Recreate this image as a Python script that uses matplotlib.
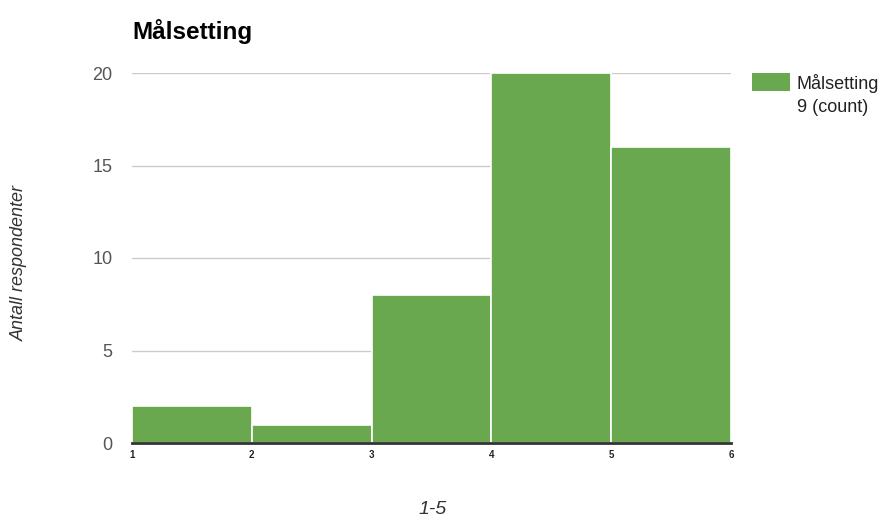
import matplotlib
matplotlib.use("Agg")
import matplotlib.pyplot as plt
from matplotlib.patches import Rectangle

plt.rcParams["font.family"] = ["Liberation Sans", "DejaVu Sans"]

bin_edges = [1, 2, 3, 4, 5, 6]
counts = [2, 1, 8, 20, 16]
y_ticks = [0, 5, 10, 15, 20]
title = "Målsetting"
legend_label = "Målsetting\n9 (count)"
ylabel = "Antall respondenter"
xlabel = "1-5"
green = "#6aa84f"

fig = plt.figure(figsize=(8.91, 5.18), dpi=100)
ax = fig.add_axes([132/891, 1-443/518, 599/891, 370/518])

lefts = bin_edges[:-1]
widths = [b - a for a, b in zip(bin_edges[:-1], bin_edges[1:])]
ax.bar(lefts, counts, width=widths, align="edge", color=green,
       edgecolor="white", linewidth=1.2, zorder=2)

ax.set_xlim(bin_edges[0], bin_edges[-1])
ax.set_ylim(0, 20)
ax.set_yticks(y_ticks)
ax.set_xticks(bin_edges)
ax.set_xticklabels([str(b) for b in bin_edges], fontsize=7, color="#222222",
                   fontweight="bold")
ax.set_yticklabels([str(t) for t in y_ticks], fontsize=13, color="#555555")
ax.tick_params(axis="both", length=0)
ax.tick_params(axis="y", pad=14)
ax.tick_params(axis="x", pad=5)
ax.grid(axis="y", color="#cccccc", linewidth=1, zorder=0)
for s in ["top", "right", "left"]:
    ax.spines[s].set_visible(False)
ax.spines["bottom"].set_color("#333333")
ax.spines["bottom"].set_linewidth(2)
ax.spines["bottom"].set_zorder(3)

fig.text(132/891, 1-31/518, title, fontsize=17.5, fontweight="bold",
         va="center", ha="left", color="black")
fig.text(19/891, 1-263/518, ylabel, rotation=90, fontsize=13, style="italic",
         color="#333333", va="center", ha="center")
fig.text(433/891, 1-509/518, xlabel, fontsize=14, style="italic",
         color="#333333", va="center", ha="center")

# legend
fig.patches.append(Rectangle((752/891, 1-91/518), 38/891, 18/518,
                             transform=fig.transFigure, facecolor=green,
                             edgecolor="none"))
fig.text(797/891, 1-95/518, legend_label, fontsize=13, color="#222222",
         va="center", ha="left", linespacing=1.5)

fig.savefig("out.png", dpi=100)
